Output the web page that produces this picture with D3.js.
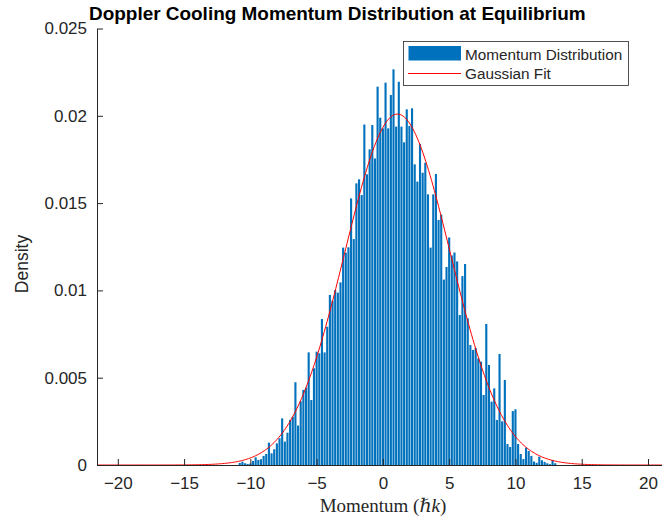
<!DOCTYPE html>
<html>
<head>
<meta charset="utf-8">
<script src="https://cdn.jsdelivr.net/npm/d3@7"></script>
<style>
  html, body { margin: 0; padding: 0; background: #fff; }
  svg { display: block; }
  text { font-family: "Liberation Sans", Arial, Helvetica, sans-serif; fill: #262626; }
</style>
</head>
<body>
<svg id="chart" width="662" height="522"></svg>
<script>
// ---------------- DATA ----------------
const binWidth = 0.2;
const binCenters = [
  -10.8,-10.6,-10.4,-10.2,-10.0,-9.8,-9.6,-9.4,-9.2,-9.0,
  -8.8,-8.6,-8.4,-8.2,-8.0,-7.8,-7.6,-7.4,-7.2,-7.0,
  -6.8,-6.6,-6.4,-6.2,-6.0,-5.8,-5.6,-5.4,-5.2,-5.0,
  -4.8,-4.6,-4.4,-4.2,-4.0,-3.8,-3.6,-3.4,-3.2,-3.0,
  -2.8,-2.6,-2.4,-2.2,-2.0,-1.8,-1.6,-1.4,-1.2,-1.0,
  -0.8,-0.6,-0.4,-0.2,0.0,0.2,0.4,0.6,0.8,1.0,
  1.2,1.4,1.6,1.8,2.0,2.2,2.4,2.6,2.8,3.0,
  3.2,3.4,3.6,3.8,4.0,4.2,4.4,4.6,4.8,5.0,
  5.2,5.4,5.6,5.8,6.0,6.2,6.4,6.6,6.8,7.0,
  7.2,7.4,7.6,7.8,8.0,8.2,8.4,8.6,8.8,9.0,
  9.2,9.4,9.6,9.8,10.0,10.2,10.4,10.6,10.8,11.0,
  11.2,11.4,11.6,11.8,12.0,12.2,12.4,12.6,12.8,13.0
];
const densityValues = [
  0.00012,0.00019,0.00010,0.00006,0.00008,0.00023,0.00044,0.00029,0.00033,0.00052,
  0.00063,0.00128,0.00067,0.00090,0.00124,0.00153,0.00267,0.00134,0.00185,0.00258,
  0.00277,0.00474,0.00226,0.00365,0.00430,0.00443,0.00645,0.00372,0.00554,0.00649,
  0.00640,0.00836,0.00645,0.00792,0.00974,0.00941,0.01002,0.00987,0.01046,0.01245,
  0.01216,0.01247,0.01527,0.01294,0.01613,0.01636,0.01546,0.01950,0.01665,0.01808,
  0.01947,0.01756,0.02167,0.01989,0.01928,0.02190,0.01928,0.02119,0.02266,0.01938,
  0.02195,0.01938,0.01848,0.02037,0.01942,0.02043,0.01722,0.01623,0.01838,0.01674,
  0.01731,0.01550,0.01245,0.01550,0.01667,0.01403,0.01434,0.01062,0.01134,0.01303,
  0.01200,0.01217,0.01166,0.00859,0.01082,0.01151,0.00840,0.00687,0.00659,0.00670,
  0.00611,0.00592,0.00401,0.00808,0.00573,0.00363,0.00439,0.00258,0.00636,0.00250,
  0.00487,0.00120,0.00103,0.00309,0.00319,0.00120,0.00063,0.00034,0.00099,0.00080,
  0.00052,0.00020,0.00013,0.00048,0.00027,0.00018,0.00010,0.00005,0.00029,0.00010
];
// Gaussian fit parameters (mean and std of the momentum, in units of hbar k)
const fitMu = 1.1;
const fitSigma = 3.97;

const xTicks = [-20, -15, -10, -5, 0, 5, 10, 15, 20];
const yTicks = [0, 0.005, 0.01, 0.015, 0.02, 0.025];
const yTickLabels = ["0", "0.005", "0.01", "0.015", "0.02", "0.025"];
const xDomain = [-21.57, 21.57];
const yDomain = [0, 0.025];

const titleText = "Doppler Cooling Momentum Distribution at Equilibrium";
const yLabelText = "Density";
const legendLabels = ["Momentum Distribution", "Gaussian Fit"];

// ---------------- DRAW ----------------
const svg = d3.select("#chart");
const axisColor = "#262626";
const barColor = "#0072BD";
const fitColor = "#FF0000";
const tickFont = 17;

const x = d3.scaleLinear().domain(xDomain).range([97, 668.8]);
const y = d3.scaleLinear().domain(yDomain).range([465, 28.5]);

const bars = binCenters.map((c, i) => ({ c, v: densityValues[i] }));
const barW = 0.8 * binWidth;

// bars
svg.append("g").selectAll("rect").data(bars).enter().append("rect")
  .attr("x", d => x(d.c - barW / 2))
  .attr("width", d => x(d.c + barW / 2) - x(d.c - barW / 2))
  .attr("y", d => y(d.v))
  .attr("height", d => y(0) - y(d.v))
  .attr("fill", barColor);

// gaussian fit curve
const amp = binWidth / (fitSigma * Math.sqrt(2 * Math.PI));
const fitX = d3.range(0, 401).map(i => xDomain[0] + (xDomain[1] - xDomain[0]) * i / 400);
const fitPts = fitX.map(v => [v, amp * Math.exp(-0.5 * Math.pow((v - fitMu) / fitSigma, 2))]);
svg.append("path")
  .datum(fitPts)
  .attr("fill", "none")
  .attr("stroke", fitColor)
  .attr("stroke-width", 1)
  .attr("d", d3.line().x(d => x(d[0])).y(d => y(d[1])));

// x axis
const xAxis = d3.axisBottom(x).tickValues(xTicks).tickSizeInner(-6).tickSizeOuter(0).tickPadding(12);
const gx = svg.append("g").attr("transform", `translate(0,${y(0)})`).call(xAxis);
gx.select(".domain").attr("stroke", axisColor);
gx.selectAll(".tick line").attr("stroke", axisColor);
gx.selectAll(".tick text").attr("font-size", tickFont).attr("fill", axisColor)
  .attr("font-family", "'Liberation Sans', Arial, sans-serif");

// y axis
const yAxis = d3.axisLeft(y).tickValues(yTicks).tickSizeInner(-6).tickSizeOuter(0).tickPadding(10)
  .tickFormat((d, i) => yTickLabels[i]);
const gy = svg.append("g").attr("transform", `translate(${x(xDomain[0])},0)`).call(yAxis);
gy.select(".domain").attr("stroke", axisColor);
gy.selectAll(".tick line").attr("stroke", axisColor);
gy.selectAll(".tick text").attr("font-size", tickFont).attr("fill", axisColor)
  .attr("font-family", "'Liberation Sans', Arial, sans-serif");

// title
svg.append("text")
  .attr("x", 89).attr("y", 19.5)
  .attr("font-size", 18.95).attr("font-weight", "bold")
  .style("fill", "#000")
  .text(titleText);

// y label
svg.append("text")
  .attr("transform", "translate(28,264) rotate(-90)")
  .attr("text-anchor", "middle")
  .attr("font-size", 17.5)
  .text(yLabelText);

// x label (LaTeX-like)
const xl = svg.append("text")
  .attr("x", 383).attr("y", 512)
  .attr("text-anchor", "middle")
  .attr("font-size", 19)
  .style("font-family", "'Liberation Serif', 'DejaVu Serif', serif")
  .style("fill", "#262626");
xl.append("tspan").text("Momentum (");
xl.append("tspan").attr("font-style", "italic").text("\u210F" + "k");
xl.append("tspan").text(")");

// legend
const lg = svg.append("g");
lg.append("rect").attr("x", 403.5).attr("y", 41.5).attr("width", 225).attr("height", 44)
  .attr("fill", "#fff").attr("stroke", "#262626").attr("stroke-width", 0.8);
lg.append("rect").attr("x", 408.5).attr("y", 46).attr("width", 52.5).attr("height", 14.5)
  .attr("fill", barColor);
lg.append("text").attr("x", 465).attr("y", 59.5).attr("font-size", 15.3).text(legendLabels[0]);
lg.append("line").attr("x1", 408).attr("x2", 461).attr("y1", 73.5).attr("y2", 73.5)
  .style("stroke", fitColor).attr("stroke-width", 1);
lg.append("text").attr("x", 465).attr("y", 79).attr("font-size", 15.3).text(legendLabels[1]);
</script>
</body>
</html>
